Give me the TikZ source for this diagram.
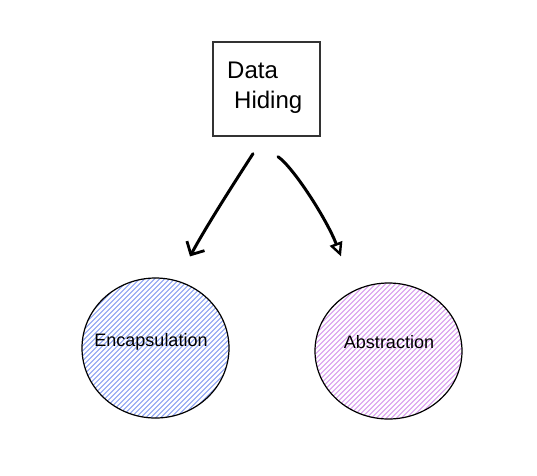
\documentclass[tikz,border=0pt]{standalone}
\usepackage{fontspec}
\setmainfont{Liberation Sans}
\usetikzlibrary{arrows.meta,shapes.geometric}
\definecolor{hblue}{RGB}{125,150,240}
\definecolor{hpurple}{RGB}{212,145,236}
\tikzset{
  boxnode/.style={draw=black!80,line width=1.4pt,minimum width=107pt,minimum height=94pt,inner sep=0pt},
  circ/.style={ellipse,draw=black,line width=1.2pt,inner sep=0pt},
  lbl/.style={font=\fontsize{18}{20}\selectfont},
  conn/.style={line width=3pt,line cap=round},
  hatch/.style={line width=1pt}
}
\begin{document}
\begin{tikzpicture}[x=1pt,y=-1pt]
\useasboundingbox (0,0) rectangle (537,475);
% nodes
\node[boxnode] (data) at (266.5,89) {};
\node[font=\fontsize{24}{30}\selectfont,align=left,anchor=north west,inner sep=0pt] (datatext) at (227,62) {Data\\\hspace{7pt}Hiding};
% hachure fills
\begin{scope}
  \clip (155.5,348) ellipse [x radius=73.5,y radius=70];
  \foreach \i in {-160,-155,...,160}
    \draw[hblue,hatch] (155.5+\i-80,348+80) -- (155.5+\i+80,348-80);
\end{scope}
\begin{scope}
  \clip (388.5,351) ellipse [x radius=73.5,y radius=68];
  \foreach \i in {-160,-155,...,160}
    \draw[hpurple,hatch] (388.5+\i-80,351+80) -- (388.5+\i+80,351-80);
\end{scope}
\node[circ,minimum width=147pt,minimum height=140pt] (enc) at (155.5,348) {};
\node[circ,minimum width=147pt,minimum height=136pt] (abs) at (388.5,351) {};
\node[lbl] (enctext) at (151,342) {Encapsulation};
\node[lbl] (abstext) at (389,342) {Abstraction};
% connectors
\coordinate (s1) at ([xshift=-13.5pt,yshift=-17pt]data.south);
\coordinate (e1) at ([xshift=34.5pt,yshift=21pt]enc.north);
\coordinate (s2) at ([xshift=11.5pt,yshift=-20pt]data.south);
\coordinate (e2) at ([xshift=-47.5pt,yshift=26pt]abs.north);
\draw[conn,-{Straight Barb[length=10pt,width=20pt,line width=2.8pt]}] (s1) .. controls (236,180) and (207,225) .. (e1);
\draw[conn,-{Triangle[open,length=14pt,width=13pt,line width=2.4pt]}] (s2) .. controls (294,168) and (327,220) .. (e2);
\end{tikzpicture}
\end{document}
